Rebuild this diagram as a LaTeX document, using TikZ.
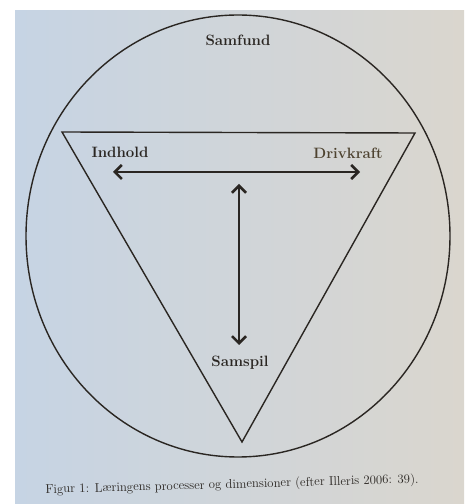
\documentclass[tikz,border=0pt]{standalone}
\usetikzlibrary{arrows.meta,shadings}
\definecolor{ink}{HTML}{2A2622}
\definecolor{brownink}{HTML}{4E4330}
\definecolor{pageL}{HTML}{C6D4E4}
\definecolor{pageR}{HTML}{DAD6CE}
\tikzset{
  outline/.style={draw=ink, line width=1.4pt},
  dimarrow/.style={draw=ink, line width=2.5pt, {Straight Barb[length=7pt,width=14pt]}-{Straight Barb[length=7pt,width=14pt]}},
  label/.style={font=\fontsize{15}{18}\selectfont\bfseries, text=ink, inner sep=0pt},
  caption/.style={font=\fontsize{12.8}{15}\selectfont, text=ink, inner sep=0pt}
}
\begin{document}
\begin{tikzpicture}[x=1pt,y=1pt]
\useasboundingbox (0,0) rectangle (464,504);
\fill[white] (0,0) rectangle (464,504);
\shade[left color=pageL, right color=pageR] (15,0) rectangle (464,493);
% society ellipse
\draw[outline] (238,268) ellipse [x radius=212, y radius=221];
% triangle
\coordinate (tl) at (62,372);
\coordinate (tr) at (415,371);
\coordinate (bt) at (242,62);
\draw[outline, line join=miter] (tl) -- (tr) -- (bt) -- cycle;
% labels
\node[label] (samfund) at (238,464) {Samfund};
\node[label] (indhold) at (120,352) {Indhold};
\node[label, text=brownink] (drivkraft) at (348,351) {Drivkraft};
\node[label] (samspil) at (240,141) {Samspil};
% arrows
\coordinate (hl) at (113,332);
\coordinate (hr) at (360,332);
\coordinate (vt) at (239,320);
\coordinate (vb) at (239,159);
\draw[dimarrow] (hl) -- (hr);
\draw[dimarrow] (vt) -- (vb);
% caption
\node[caption, rotate=1.6] (cap) at (232,19) {Figur 1: Læringens processer og dimensioner (efter Illeris 2006: 39).};
\end{tikzpicture}
\end{document}
